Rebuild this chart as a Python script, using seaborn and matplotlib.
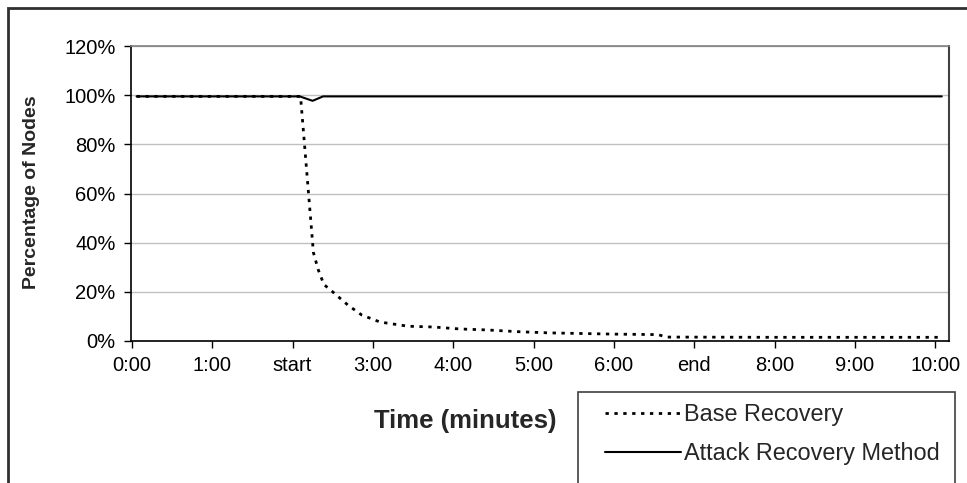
import numpy as np
import pandas as pd
import matplotlib
matplotlib.use("Agg")
import matplotlib.pyplot as plt
import seaborn as sns
from matplotlib.patches import Rectangle
from matplotlib.lines import Line2D

# time in minutes, percentage of nodes still recovering / alive
BASE_T = [0.06, 2.10, 2.26, 2.32, 2.39, 2.50, 2.57, 2.69, 2.86, 3.09, 3.44,
          3.75, 4.08, 4.42, 4.80, 5.20, 6.00, 6.55, 6.65, 8.00, 10.08]
BASE_V = [99.5, 99.5, 36.0, 29.0, 23.0, 20.0, 18.0, 14.6, 10.6, 7.7, 6.0,
          5.7, 4.9, 4.5, 3.8, 3.3, 2.8, 2.6, 1.6, 1.5, 1.5]

ATTACK_T = [0.06, 2.09, 2.25, 2.38, 10.08]
ATTACK_V = [99.5, 99.5, 97.7, 99.5, 99.5]

TICK_POS = [0, 1, 2, 3, 4, 5, 6, 7, 8, 9, 10]
TICK_LABELS = ["0:00", "1:00", "start", "3:00", "4:00", "5:00", "6:00",
               "end", "8:00", "9:00", "10:00"]
Y_TICKS = [0, 20, 40, 60, 80, 100, 120]

sns.set_style("white")
plt.rcParams["font.family"] = ["Liberation Sans", "DejaVu Sans"]

W, H = 967, 483
fig = plt.figure(figsize=(W / 100, H / 100), dpi=100)
ax = fig.add_axes([131 / W, 1 - 341 / H, (949 - 131) / W, (341 - 46) / H])

base = pd.DataFrame({"t": BASE_T, "v": BASE_V})
attack = pd.DataFrame({"t": ATTACK_T, "v": ATTACK_V})

dots = (0, (1.2, 2.0))
sns.lineplot(data=base, x="t", y="v", ax=ax, color="black", lw=2.0,
             linestyle=dots, estimator=None, sort=False)
sns.lineplot(data=attack, x="t", y="v", ax=ax, color="black", lw=1.5,
             estimator=None, sort=False)

ax.set_xlim(-0.01, 10.17)
ax.set_ylim(0, 120)
ax.set_xticks(TICK_POS)
ax.set_xticklabels(TICK_LABELS)
ax.set_yticks(Y_TICKS)
ax.set_yticklabels([f"{y}%" for y in Y_TICKS])
ax.yaxis.grid(True, color="#c0c0c0", lw=1)
ax.set_axisbelow(True)
ax.set_xlabel("")
ax.set_ylabel("")
ax.tick_params(axis="both", direction="out", length=5, width=1,
               colors="black", labelsize=14.5, pad=6, bottom=True, left=True)
for side in ["left", "bottom"]:
    ax.spines[side].set_color("black")
    ax.spines[side].set_linewidth(1.2)
ax.spines["right"].set_color("#404040")
ax.spines["right"].set_linewidth(1.5)
ax.spines["top"].set_color("#808080")
ax.spines["top"].set_linewidth(1.2)

fig.text(32 / W, 1 - 192 / H, "Percentage of Nodes", rotation=90,
         ha="center", va="center", fontsize=14, fontweight="bold")
fig.text(465 / W, 1 - 421 / H, "Time (minutes)", ha="center", va="center",
         fontsize=18.5, fontweight="bold")

# chart area border (only left/top visible in the crop)
fig.patches.append(Rectangle((8 / W, -0.1), 1.2, 1.1 - 8 / H, transform=fig.transFigure,
                             fill=False, ec="#303030", lw=2))
# legend box
fig.patches.append(Rectangle((578 / W, -0.1), (955 - 578) / W, 0.1 + 1 - 392 / H,
                             transform=fig.transFigure, fill=False, ec="#404040", lw=1.2))
handles = [Line2D([], [], color="black", lw=2.0, linestyle=dots),
           Line2D([], [], color="black", lw=1.5)]
fig.legend(handles, ["Base Recovery", "Attack Recovery Method"],
           loc="upper left", bbox_to_anchor=(605 / W, 1 - 403 / H),
           frameon=False, fontsize=16.9, borderpad=0, borderaxespad=0,
           handlelength=3.25, handletextpad=0.12, labelspacing=0.7)

fig.savefig("out.png", dpi=100)
